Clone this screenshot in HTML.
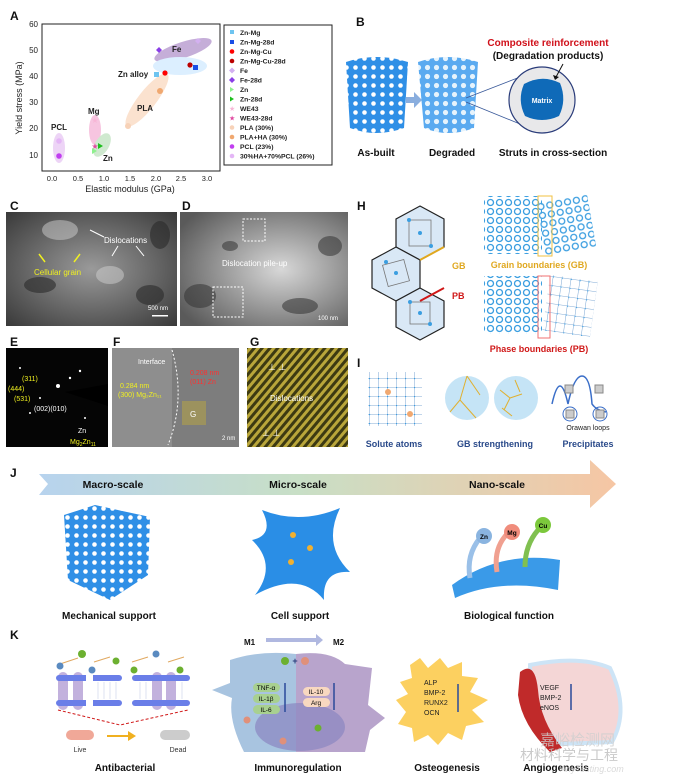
<!DOCTYPE html>
<html><head><meta charset="utf-8"><style>
html,body{margin:0;padding:0;background:#fff;width:680px;height:780px;overflow:hidden}
svg{display:block;font-family:"Liberation Sans",Arial,sans-serif}
.L{font-weight:bold;font-size:12px;fill:#111}
.b{font-weight:bold}
</style></head><body>
<svg width="680" height="780" viewBox="0 0 680 780" xmlns="http://www.w3.org/2000/svg">
<defs>
<linearGradient id="jg" x1="0" x2="1" y1="0" y2="0">
<stop offset="0" stop-color="#b7d3ee"/><stop offset="0.45" stop-color="#c8dfc6"/><stop offset="1" stop-color="#f6c6a4"/></linearGradient>
<radialGradient id="tem1" cx="0.5" cy="0.5" r="0.7"><stop offset="0" stop-color="#9a9a9a"/><stop offset="1" stop-color="#3a3a3a"/></radialGradient>
<radialGradient id="tem2" cx="0.6" cy="0.5" r="0.7"><stop offset="0" stop-color="#d8d8d8"/><stop offset="1" stop-color="#5a5a5a"/></radialGradient>
<pattern id="stripes" width="6" height="6" patternUnits="userSpaceOnUse" patternTransform="rotate(40)"><rect width="6" height="6" fill="#3d3a12"/><rect width="3" height="6" fill="#b9a63a"/></pattern>
<pattern id="hexp" width="9" height="9" patternUnits="userSpaceOnUse"><circle cx="4.5" cy="4.5" r="3" fill="none" stroke="#3b9ee0" stroke-width="1.3"/></pattern>
<pattern id="sqp" width="9" height="9" patternUnits="userSpaceOnUse"><path d="M0 0H9M0 0V9" stroke="#5a8fc8" stroke-width="0.8"/><circle cx="0" cy="0" r="1.3" fill="#3b9ee0"/></pattern>
<pattern id="holes" width="9" height="9" patternUnits="userSpaceOnUse"><rect width="9" height="9" fill="#2f8fe6"/><circle cx="4.5" cy="4.5" r="2.3" fill="#fff"/></pattern>
<pattern id="holes2" width="9" height="9" patternUnits="userSpaceOnUse"><rect width="9" height="9" fill="#5aaaf0"/><circle cx="4.5" cy="4.5" r="2.6" fill="#e6f3fc"/></pattern>
</defs>

<!-- A -->
<text x="10" y="20" class="L" font-size="13">A</text>
<rect x="42" y="24" width="178" height="147" fill="none" stroke="#222"/>
<g font-size="8" fill="#222" text-anchor="end">
<text x="38" y="27">60</text><text x="38" y="53">50</text><text x="38" y="79">40</text><text x="38" y="105">30</text><text x="38" y="131">20</text><text x="38" y="158">10</text>
</g>
<g font-size="7.5" fill="#222" text-anchor="middle">
<text x="52" y="181">0.0</text><text x="78" y="181">0.5</text><text x="104" y="181">1.0</text><text x="130" y="181">1.5</text><text x="156" y="181">2.0</text><text x="181" y="181">2.5</text><text x="207" y="181">3.0</text>
</g>
<text x="130" y="192" font-size="9" text-anchor="middle" fill="#222">Elastic modulus (GPa)</text>
<text x="22" y="98" font-size="9" text-anchor="middle" fill="#222" transform="rotate(-90 22 98)">Yield stress (MPa)</text>
<ellipse cx="183" cy="50" rx="30" ry="8" fill="#c5aed8" transform="rotate(-18 183 50)"/>
<ellipse cx="180" cy="66" rx="27" ry="9" fill="#dcefff"/>
<ellipse cx="147" cy="100" rx="33" ry="9" fill="#fbe2cf" transform="rotate(-52 147 100)"/>
<ellipse cx="95" cy="130" rx="6" ry="15" fill="#f7c5e0"/>
<ellipse cx="102" cy="145" rx="7" ry="13" fill="#cfe9cf" transform="rotate(30 102 145)"/>
<ellipse cx="59" cy="148" rx="6" ry="15" fill="#edd4f6"/>
<text x="172" y="52" font-size="8" class="b" fill="#222">Fe</text>
<text x="118" y="77" font-size="8" class="b" fill="#222">Zn alloy</text>
<text x="137" y="111" font-size="8" class="b" fill="#222">PLA</text>
<text x="88" y="114" font-size="8" class="b" fill="#222">Mg</text>
<text x="51" y="130" font-size="8" class="b" fill="#222">PCL</text>
<text x="103" y="161" font-size="8" class="b" fill="#222">Zn</text>
<path d="M156 50l3-3 3 3-3 3z" fill="#8a3ee6"/><path d="M195 41l3-3 3 3-3 3z" fill="#d3b0f0"/>
<rect x="154" y="72" width="5" height="5" fill="#6ec4f0"/><circle cx="165" cy="73" r="2.6" fill="#f00"/>
<circle cx="190" cy="65" r="2.6" fill="#b00"/><rect x="193" y="65" width="5" height="5" fill="#1a4ee6"/>
<circle cx="160" cy="91" r="3" fill="#f0a870"/><circle cx="128" cy="126" r="3" fill="#f7d2b8"/>
<text x="95" y="123" font-size="8" fill="#f7b6d6" text-anchor="middle">★</text><text x="95" y="149" font-size="8" fill="#e048a0" text-anchor="middle">★</text>
<path d="M98 143l5 3-5 3z" fill="#1dbf1d"/><path d="M92 148l5 3-5 3z" fill="#8ef08e"/>
<circle cx="59" cy="141" r="2.8" fill="#e4b6f6"/><circle cx="59" cy="156" r="2.8" fill="#c13ef0"/>
<rect x="224" y="25" width="108" height="140" fill="#fff" stroke="#222"/>
<g font-size="6.8" class="b" fill="#222">
<rect x="230" y="30" width="4" height="4" fill="#6ec4f0"/><text x="240" y="35">Zn-Mg</text>
<rect x="230" y="40" width="4" height="4" fill="#1a4ee6"/><text x="240" y="44.5">Zn-Mg-28d</text>
<circle cx="232" cy="51.5" r="2.3" fill="#f00"/><text x="240" y="54">Zn-Mg-Cu</text>
<circle cx="232" cy="61" r="2.3" fill="#b00"/><text x="240" y="63.5">Zn-Mg-Cu-28d</text>
<path d="M229 70.5l3-3 3 3-3 3z" fill="#d3b0f0"/><text x="240" y="73">Fe</text>
<path d="M229 80l3-3 3 3-3 3z" fill="#8a3ee6"/><text x="240" y="82.5">Fe-28d</text>
<path d="M230 87l4 2.5-4 2.5z" fill="#8ef08e"/><text x="240" y="92">Zn</text>
<path d="M230 96.5l4 2.5-4 2.5z" fill="#1dbf1d"/><text x="240" y="101.5">Zn-28d</text>
<text x="229" y="111" fill="#f7b6d6" font-weight="normal">★</text><text x="240" y="111">WE43</text>
<text x="229" y="120.5" fill="#e048a0" font-weight="normal">★</text><text x="240" y="120.5">WE43-28d</text>
<circle cx="232" cy="127.5" r="2.3" fill="#f7d2b8"/><text x="240" y="130">PLA (30%)</text>
<circle cx="232" cy="137" r="2.3" fill="#f0a870"/><text x="240" y="139.5">PLA+HA (30%)</text>
<circle cx="232" cy="146.5" r="2.3" fill="#c13ef0"/><text x="240" y="149">PCL (23%)</text>
<circle cx="232" cy="156" r="2.3" fill="#e4b6f6"/><text x="240" y="158.5">30%HA+70%PCL (26%)</text>
</g>

<!-- B -->
<text x="356" y="26" class="L">B</text>
<text x="548" y="46" font-size="10" class="b" fill="#d0101a" text-anchor="middle">Composite reinforcement</text>
<text x="548" y="59" font-size="10" class="b" fill="#111" text-anchor="middle">(Degradation products)</text>
<path d="M346 62 Q376 52 408 62 L404 128 Q376 138 350 128Z" fill="url(#holes)"/>
<path d="M406 97h8v-5l8 8-8 8v-5h-8z" fill="#8aaede"/>
<path d="M418 62 Q448 52 478 62 L474 128 Q448 138 424 128Z" fill="url(#holes2)"/>
<line x1="466" y1="98" x2="520" y2="77" stroke="#3a5a9a" stroke-width="0.8"/>
<line x1="466" y1="102" x2="520" y2="124" stroke="#3a5a9a" stroke-width="0.8"/>
<circle cx="542" cy="100" r="33" fill="#e8e8ea" stroke="#2a3c7a" stroke-width="1.2"/>
<path d="M524 84 Q542 74 560 83 Q567 100 559 116 Q542 124 525 116 Q517 100 524 84Z" fill="#0f6ab8"/>
<text x="542" y="103" font-size="7" class="b" fill="#fff" text-anchor="middle">Matrix</text>
<path d="M563 64 L556 77" stroke="#111" stroke-width="1"/><path d="M553 75l2 5 4-3z" fill="#111"/>
<text x="376" y="156" font-size="10" class="b" fill="#111" text-anchor="middle">As-built</text>
<text x="452" y="156" font-size="10" class="b" fill="#111" text-anchor="middle">Degraded</text>
<text x="553" y="156" font-size="10" class="b" fill="#111" text-anchor="middle">Struts in cross-section</text>

<!-- C D -->
<text x="10" y="210" class="L">C</text><text x="182" y="210" class="L">D</text>
<rect x="6" y="212" width="171" height="114" fill="url(#tem1)"/>
<g fill="#2a2a2a" opacity="0.6"><ellipse cx="150" cy="295" rx="14" ry="10"/><ellipse cx="40" cy="285" rx="16" ry="8"/><ellipse cx="160" cy="235" rx="10" ry="14"/></g>
<g fill="#cfcfcf" opacity="0.5"><ellipse cx="60" cy="230" rx="18" ry="10"/><ellipse cx="110" cy="275" rx="14" ry="9"/></g>
<text x="104" y="243" font-size="8" fill="#fff">Dislocations</text>
<text x="34" y="275" font-size="8" fill="#f0f020">Cellular grain</text>
<path d="M45 262l-6-8M74 262l6-8" stroke="#f0f020" stroke-width="1.5"/>
<path d="M104 237l-14-7M118 246l-6 10M136 246l8 10" stroke="#fff" stroke-width="1"/>
<text x="148" y="310" font-size="6" fill="#fff">500 nm</text><rect x="152" y="315" width="16" height="1.5" fill="#fff"/>
<rect x="180" y="212" width="168" height="114" fill="url(#tem2)"/>
<g fill="#333" opacity="0.55"><ellipse cx="200" cy="296" rx="16" ry="12"/><ellipse cx="330" cy="246" rx="12" ry="10"/><ellipse cx="230" cy="246" rx="8" ry="5"/><ellipse cx="300" cy="306" rx="18" ry="8"/></g>
<rect x="243" y="219" width="22" height="22" fill="none" stroke="#fff" stroke-dasharray="2,1.5"/>
<rect x="213" y="287" width="30" height="30" fill="none" stroke="#fff" stroke-dasharray="2,1.5"/>
<text x="222" y="286" font-size="8" fill="#fff" transform="translate(0 -20)">Dislocation pile-up</text>
<text x="318" y="320" font-size="6" fill="#fff">100 nm</text>

<!-- E F G -->
<text x="10" y="346" class="L">E</text><text x="113" y="346" class="L">F</text><text x="250" y="346" class="L">G</text>
<rect x="6" y="348" width="102" height="99" fill="#050505"/>
<path d="M108 384 L65 392 L108 406Z" fill="#000"/>
<g fill="#fff"><circle cx="58" cy="386" r="2"/><circle cx="70" cy="378" r="1.2"/><circle cx="80" cy="371" r="1.2"/><circle cx="40" cy="398" r="1"/><circle cx="30" cy="413" r="1"/><circle cx="85" cy="418" r="1"/><circle cx="20" cy="368" r="1"/></g>
<g font-size="7" fill="#f0f020"><text x="22" y="381">(311)</text><text x="8" y="391">(444)</text><text x="14" y="401">(531)</text><text x="70" y="444">Mg<tspan font-size="5" dy="2">2</tspan><tspan dy="-2">Zn</tspan><tspan font-size="5" dy="2">11</tspan></text></g>
<text x="34" y="411" font-size="7" fill="#fff">(002)(010)</text>
<text x="78" y="433" font-size="7" fill="#fff">Zn</text>
<rect x="112" y="348" width="127" height="99" fill="#7d7d7d"/>
<rect x="112" y="348" width="60" height="99" fill="#9a9a9a" opacity="0.6"/>
<path d="M172 350 Q186 400 168 445" stroke="#fff" stroke-dasharray="2,2" fill="none"/>
<text x="138" y="364" font-size="7" fill="#fff">Interface</text>
<text x="190" y="375" font-size="7" fill="#ff3030">0.208 nm</text><text x="190" y="384" font-size="7" fill="#ff3030">(011) Zn</text>
<text x="120" y="388" font-size="7" fill="#f0f020">0.284 nm</text><text x="118" y="397" font-size="7" fill="#f0f020">(300) Mg₂Zn₁₁</text>
<rect x="182" y="401" width="24" height="24" fill="#b0a04a" opacity="0.6"/><text x="190" y="417" font-size="8" fill="#fff">G</text>
<text x="222" y="440" font-size="6" fill="#fff">2 nm</text>
<rect x="247" y="348" width="101" height="99" fill="url(#stripes)"/>
<text x="270" y="401" font-size="8" fill="#fff">Dislocations</text>
<text x="268" y="370" font-size="9" fill="#fff">⊥ ⊥</text><text x="262" y="436" font-size="9" fill="#fff">⊥ ⊥</text>

<!-- H -->
<text x="357" y="210" class="L">H</text>
<g stroke="#222" stroke-width="1.2" fill="#d9e8f6">
<path d="M420 206l24 13v28l-24 13-24-13v-28z"/>
<path d="M396 247l24 13v28l-24 13-24-13v-28z"/>
<path d="M420 288l24 13v26l-24 13-24-13v-26z"/>
</g>
<line x1="420" y1="260" x2="444" y2="247" stroke="#e0a820" stroke-width="2"/>
<line x1="420" y1="301" x2="444" y2="288" stroke="#d01818" stroke-width="2"/>
<g fill="none" stroke="#777" stroke-width="0.8"><rect x="409" y="220" width="22" height="26"/><rect x="385" y="262" width="22" height="22" transform="rotate(-15 396 273)"/><rect x="410" y="302" width="20" height="22"/></g>
<g fill="#3b9ee0"><circle cx="409" cy="220" r="2"/><circle cx="431" cy="246" r="2"/><circle cx="420" cy="233" r="2"/><circle cx="396" cy="273" r="2"/><circle cx="386" cy="262" r="2"/><circle cx="420" cy="313" r="2"/><circle cx="410" cy="302" r="2"/><circle cx="430" cy="324" r="2"/></g>
<text x="452" y="269" font-size="9" class="b" fill="#e0a820">GB</text>
<text x="452" y="299" font-size="9" class="b" fill="#d01818">PB</text>
<rect x="484" y="196" width="58" height="58" fill="url(#hexp)"/>
<rect x="540" y="198" width="52" height="54" fill="url(#hexp)" transform="rotate(-10 566 225)"/>
<rect x="538" y="196" width="14" height="60" fill="none" stroke="#f0c040" stroke-width="1"/>
<text x="539" y="268" font-size="9" class="b" fill="#e0a820" text-anchor="middle">Grain boundaries (GB)</text>
<rect x="484" y="276" width="58" height="58" fill="url(#hexp)"/>
<rect x="546" y="278" width="48" height="56" fill="url(#sqp)" transform="rotate(8 570 306)"/>
<rect x="538" y="276" width="12" height="62" fill="none" stroke="#f07070" stroke-width="1"/>
<text x="539" y="352" font-size="9" class="b" fill="#d01818" text-anchor="middle">Phase boundaries (PB)</text>

<!-- I -->
<text x="357" y="367" class="L">I</text>
<circle cx="385" cy="399" r="20" fill="none"/>
<rect x="368" y="372" width="54" height="54" fill="url(#sqp)"/>
<circle cx="388" cy="392" r="3" fill="#f0a870"/><circle cx="410" cy="414" r="3" fill="#f0a870"/>
<circle cx="467" cy="398" r="22" fill="#c5e4f6"/><circle cx="516" cy="398" r="22" fill="#c5e4f6"/>
<path d="M467 376 L460 400 L450 412 M460 400 L476 418 M467 376 L480 395" stroke="#e0b030" fill="none"/>
<path d="M500 390l10 8-6 12M510 398l12-4M502 408l10 8M515 380l5 12" stroke="#e0b030" fill="none"/>
<g fill="none" stroke="#3a6ec8" stroke-width="1.5"><path d="M552 404 Q560 368 568 404 Q574 376 582 376 Q590 376 592 404 Q596 410 606 412"/></g>
<rect x="565" y="385" width="8" height="8" fill="#ccc" stroke="#888"/><rect x="595" y="385" width="8" height="8" fill="#ccc" stroke="#888"/>
<circle cx="570" cy="414" r="7" fill="none" stroke="#3a6ec8"/><circle cx="600" cy="414" r="7" fill="none" stroke="#3a6ec8"/>
<rect x="566" y="410" width="8" height="8" fill="#ccc" stroke="#888"/><rect x="596" y="410" width="8" height="8" fill="#ccc" stroke="#888"/>
<text x="588" y="430" font-size="7" fill="#222" text-anchor="middle">Orawan loops</text>
<text x="394" y="447" font-size="9" class="b" fill="#2a4a8a" text-anchor="middle">Solute atoms</text>
<text x="495" y="447" font-size="9" class="b" fill="#2a4a8a" text-anchor="middle">GB strengthening</text>
<text x="588" y="447" font-size="9" class="b" fill="#2a4a8a" text-anchor="middle">Precipitates</text>

<!-- J -->
<text x="10" y="477" class="L">J</text>
<path d="M39 474 H590 V460 L616 484 L590 508 V495 H39 L48 484Z" fill="url(#jg)"/>
<text x="113" y="488" font-size="10.5" class="b" fill="#111" text-anchor="middle">Macro-scale</text>
<text x="298" y="488" font-size="10.5" class="b" fill="#111" text-anchor="middle">Micro-scale</text>
<text x="497" y="488" font-size="10.5" class="b" fill="#111" text-anchor="middle">Nano-scale</text>
<path d="M64 515 L95 505 L150 517 L148 575 L110 600 L68 580Z" fill="url(#holes)"/>
<path d="M262 510 Q300 525 340 508 Q322 545 350 572 Q322 570 324 600 Q300 570 255 595 Q278 565 252 540 Q275 535 262 510Z" fill="#2a8ee6"/>
<circle cx="293" cy="535" r="3" fill="#f0b030"/><circle cx="310" cy="548" r="3" fill="#f0b030"/><circle cx="291" cy="562" r="3" fill="#f0b030"/>
<path d="M452 585 Q500 550 560 560 L558 590 Q500 578 455 598Z" fill="#3a9ae8"/>
<path d="M470 578 Q466 555 480 538" stroke="#9ac0e8" stroke-width="5" fill="none"/>
<path d="M497 572 Q493 548 508 533" stroke="#f0a090" stroke-width="5" fill="none"/>
<path d="M525 567 Q525 545 538 530" stroke="#80c050" stroke-width="5" fill="none"/>
<circle cx="484" cy="536" r="8" fill="#8ab4e0"/><text x="484" y="539" font-size="6.5" class="b" text-anchor="middle">Zn</text>
<circle cx="512" cy="532" r="8" fill="#f08c7c"/><text x="512" y="535" font-size="6.5" class="b" text-anchor="middle">Mg</text>
<circle cx="543" cy="525" r="8" fill="#7cc83c"/><text x="543" y="528" font-size="6.5" class="b" text-anchor="middle">Cu</text>
<text x="109" y="619" font-size="10" class="b" fill="#111" text-anchor="middle">Mechanical support</text>
<text x="300" y="619" font-size="10" class="b" fill="#111" text-anchor="middle">Cell  support</text>
<text x="509" y="619" font-size="10" class="b" fill="#111" text-anchor="middle">Biological function</text>

<!-- K -->
<text x="10" y="639" class="L">K</text>
<g fill="#b8a4d8" opacity="0.85"><rect x="58" y="672" width="10" height="38" rx="5"/><rect x="73" y="672" width="10" height="38" rx="5"/><rect x="152" y="672" width="10" height="38" rx="5"/><rect x="166" y="672" width="10" height="38" rx="5"/></g>
<g fill="#6a7ee8"><rect x="56" y="675" width="66" height="6" rx="3"/><rect x="56" y="700" width="66" height="6" rx="3"/><rect x="93" y="675" width="0" height="0"/><rect x="132" y="675" width="58" height="6" rx="3"/><rect x="132" y="700" width="58" height="6" rx="3"/></g>
<rect x="86" y="675" width="7" height="31" fill="#fff"/>
<g stroke="#c8d0e8" stroke-width="0.6"><path d="M98 682v17M104 682v17M110 682v17M116 682v17M140 682v17M146 682v17M182 682v17"/></g>
<g stroke="#e0a860" stroke-width="1" fill="none"><path d="M60 664l18-6M94 662l16-5M132 662l16-5M168 662l16-5"/></g>
<circle cx="82" cy="654" r="4" fill="#6cb030"/><circle cx="60" cy="666" r="3.5" fill="#5a8ac0"/><circle cx="156" cy="654" r="3.5" fill="#5a8ac0"/><circle cx="180" cy="670" r="3.5" fill="#6cb030"/><circle cx="116" cy="661" r="3.5" fill="#6cb030"/><circle cx="92" cy="670" r="3.5" fill="#5a8ac0"/><circle cx="134" cy="670" r="3.5" fill="#6cb030"/>
<path d="M58 710 L120 725 L188 710" stroke="#d01818" stroke-dasharray="3,2" fill="none"/>
<rect x="66" y="730" width="28" height="10" rx="5" fill="#f0a898"/>
<path d="M107 735h21v-4l8 5-8 5v-4h-21z" fill="#f0b020"/>
<rect x="160" y="730" width="30" height="10" rx="5" fill="#ccc"/>
<text x="80" y="752" font-size="7" fill="#333" text-anchor="middle">Live</text><text x="178" y="752" font-size="7" fill="#333" text-anchor="middle">Dead</text>
<text x="125" y="771" font-size="10" class="b" fill="#111" text-anchor="middle">Antibacterial</text>
<text x="244" y="645" font-size="8" class="b" fill="#111">M1</text><text x="333" y="645" font-size="8" class="b" fill="#111">M2</text>
<path d="M266 638h50v-4l7 6-7 6v-4h-50z" fill="#b0b8e0"/>
<path d="M230 660 Q260 650 296 654 L296 752 L244 752 Q228 720 232 698 L212 690 L230 683Z" fill="#a8c4e0"/>
<path d="M296 654 Q330 650 345 664 L372 668 L368 705 L385 718 L370 730 L365 752 L296 752Z" fill="#b8a4cc"/>
<ellipse cx="300" cy="727" rx="45" ry="24" fill="#8a86c0" opacity="0.7"/>
<rect x="253" y="683" width="27" height="9" rx="4.5" fill="#a8d090"/><text x="266" y="690" font-size="6.5" text-anchor="middle">TNF-α</text>
<rect x="253" y="694" width="27" height="9" rx="4.5" fill="#a8d090"/><text x="266" y="701" font-size="6.5" text-anchor="middle">IL-1β</text>
<rect x="253" y="705" width="27" height="9" rx="4.5" fill="#a8d090"/><text x="266" y="712" font-size="6.5" text-anchor="middle">IL-6</text>
<rect x="303" y="687" width="27" height="9" rx="4.5" fill="#f8d8c0"/><text x="316" y="694" font-size="6.5" text-anchor="middle">IL-10</text>
<rect x="303" y="698" width="27" height="9" rx="4.5" fill="#f8d8c0"/><text x="316" y="705" font-size="6.5" text-anchor="middle">Arg</text>
<line x1="285" y1="683" x2="285" y2="712" stroke="#2a4a9a" stroke-width="1.5"/><line x1="334" y1="710" x2="334" y2="683" stroke="#2a4a9a" stroke-width="1.5"/>
<circle cx="285" cy="661" r="4" fill="#6cb030"/><circle cx="305" cy="661" r="4" fill="#e0907a"/><text x="295" y="664" font-size="9" class="b" fill="#2a3a7a" text-anchor="middle">+</text>
<circle cx="247" cy="720" r="3.5" fill="#e0907a"/><circle cx="283" cy="741" r="3.5" fill="#e0907a"/><circle cx="318" cy="728" r="3.5" fill="#6cb030"/>
<text x="298" y="771" font-size="10" class="b" fill="#111" text-anchor="middle">Immunoregulation</text>
<path d="M410 665 L420 658 L428 668 L440 658 L448 668 L462 662 L462 676 L478 678 L470 692 L488 700 L472 710 L484 722 L466 726 L462 740 L448 733 L438 745 L428 735 L414 742 L412 728 L398 724 L406 712 L396 700 L408 694 L400 682 L412 678Z" fill="#fcd060"/>
<g font-size="7" fill="#222"><text x="424" y="685">ALP</text><text x="424" y="695">BMP-2</text><text x="424" y="705">RUNX2</text><text x="424" y="715">OCN</text></g>
<line x1="458" y1="712" x2="458" y2="684" stroke="#2a4a9a" stroke-width="1.5"/>
<text x="447" y="771" font-size="10" class="b" fill="#111" text-anchor="middle">Osteogenesis</text>
<path d="M530 665 Q580 655 610 668 Q630 710 612 742 L560 744 Q530 720 530 665Z" fill="#f4d6d6" stroke="#cde4f6" stroke-width="4"/>
<path d="M520 672 Q535 660 538 690 Q540 720 562 748 L550 752 Q522 725 518 695Z" fill="#c02a2a"/>
<g font-size="7" fill="#222"><text x="540" y="690">VEGF</text><text x="540" y="700">BMP-2</text><text x="540" y="710">eNOS</text></g>
<line x1="571" y1="710" x2="571" y2="684" stroke="#2a4a9a" stroke-width="1.5"/>
<text x="556" y="771" font-size="10" class="b" fill="#111" text-anchor="middle">Angiogenesis</text>
<text x="540" y="745" font-size="15" fill="#cfcfcf" opacity="0.8" font-family="Noto Sans CJK SC, sans-serif">嘉峪检测网</text>
<text x="520" y="760" font-size="14" fill="#bdbdbd" opacity="0.8" font-family="Noto Sans CJK SC, sans-serif">材料科学与工程</text>
<text x="560" y="772" font-size="9" fill="#d0d0d0" font-style="italic" opacity="0.8">AnyTesting.com</text>
</svg>
</body></html>
